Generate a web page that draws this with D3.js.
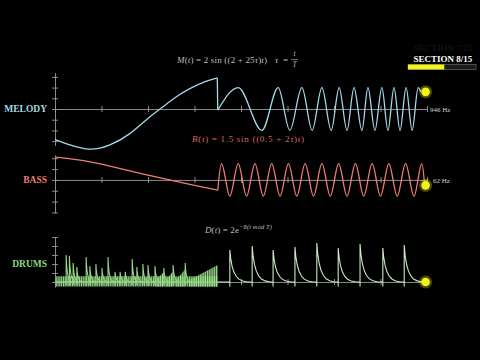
<!DOCTYPE html>
<html>
<head>
<meta charset="utf-8">
<script src="https://cdn.jsdelivr.net/npm/d3@7"></script>
<style>
  body { margin: 0; background: #000; }
  svg { display: block; }
</style>
</head>
<body>
<div id="chart"></div>
<script>
// ---- data ----
var trackNames  = ["MELODY", "BASS", "DRUMS"];
var hzLabels    = ["946 Hz", "62 Hz"];
var timeTicks   = [0, 1, 2, 3, 4, 5, 6, 7, 8];
var melodyTicks = [-3, -2, -1, 0, 1, 2, 3];
var bassTicks   = [-3, -2, -1, 0, 1, 2];
var drumTicks   = [0, 0.5, 1, 1.5, 2, 2.5];
var section     = 8, sectionCount = 15;
var dotT        = 7.97;

// melody: slow part before the jump, then chirp extrema
var melodyLeftT  = [0, 0.32, 0.75, 1.18, 1.61, 1.98, 2.26, 2.58, 2.9, 3.23, 3.49];
var melodyLeftV  = [-2.85, -3.35, -3.75, -3.35, -2.3, -0.95, 0, 1.05, 1.9, 2.55, 2.9];
var melodyRightT = [3.5, 3.94, 4.45, 4.80, 5.05, 5.31, 5.53, 5.74, 5.94, 6.11, 6.28, 6.43,
                    6.60, 6.73, 6.88, 7.03, 7.16, 7.29, 7.42, 7.55, 7.68, 7.81, 7.87];
var melodyRightV = [-0.1, 2, -2, 2, -2, 2, -2, 2, -2, 2, -2, 2,
                    -2, 2, -2, 2, -2, 2, -2, 2, -2, 2, 1.6];

// bass: slow ramp down, then steady oscillation
var bassLeftT  = [0, 0.5, 1, 2, 3, 3.5];
var bassLeftV  = [2.1, 1.85, 1.45, 0.45, -0.5, -0.95];
var bassRightT = [3.5, 3.58, 3.76, 3.94, 4.12, 4.30, 4.48, 4.66, 4.84, 5.02, 5.20,
                  5.38, 5.56, 5.74, 5.92, 6.10, 6.28, 6.46, 6.64, 6.82, 7.00, 7.18, 7.36, 7.54,
                  7.72, 7.89, 7.95];
var bassRightV = [-0.95, 1.5, -1.5, 1.5, -1.5, 1.5, -1.5, 1.5, -1.5, 1.5, -1.5,
                  1.5, -1.5, 1.5, -1.5, 1.5, -1.5, 1.5, -1.5, 1.5, -1.5, 1.5, -1.5, 1.5,
                  -1.5, 1.5, -0.5];

// drums: dense hits on the left, clean hits on the right
var drumLeftHitT  = [0.24, 0.31, 0.39, 0.47, 0.67, 0.75, 0.88, 1.01, 1.14, 1.29, 1.40, 1.51,
                     1.66, 1.76, 1.89, 2.00, 2.15, 2.34, 2.54, 2.80];
var drumLeftHitV  = [1.5, 1.45, 1.05, 0.83, 1.39, 0.89, 1.0, 0.78, 1.39, 0.56, 0.56, 0.56,
                     1.28, 0.83, 1.0, 0.94, 0.89, 0.78, 0.94, 1.05];
var drumRightHitT = [3.76, 4.24, 4.69, 5.16, 5.63, 6.09, 6.56, 7.05, 7.51];
var drumRightHitV = [1.78, 2.0, 1.78, 1.94, 2.17, 1.89, 2.11, 1.89, 2.05];
var drumDecayDt   = [0, 0.02, 0.05, 0.09, 0.14, 0.2, 0.28, 0.38];
var drumDecayFrac = [1, 0.72, 0.48, 0.3, 0.17, 0.08, 0.03, 0];
var drumBandT     = [0, 3.5];
var drumBandLo    = [-0.25, -0.25];
var drumBandHi    = [0.32, 0.32];
var drumRampStart = [2.16, 2.38, 2.6, 2.88];
var drumRampEnd   = [2.34, 2.54, 2.8, 3.5];
var drumRampTop   = [0.55, 0.6, 0.7, 0.95];

// ---- layout ----
var W = 480, H = 360;
var colors = { melody: "#a3d9e8", bass: "#ef7d72", drums: "#93d683", drumsLight: "#c9ebc0",
               axis: "#9a9a9a", dot: "#f2f21c", formula: "#bdbdbd" };
var serif = "'Liberation Serif', 'DejaVu Serif', serif";

var svg = d3.select("#chart").append("svg")
    .attr("width", W).attr("height", H)
    .style("background", "#000");

var defs = svg.append("defs");
var pat = defs.append("pattern")
    .attr("id", "stripes").attr("patternUnits", "userSpaceOnUse")
    .attr("width", 1.8).attr("height", 4);
pat.append("rect").attr("width", 1.8).attr("height", 4).attr("fill", "#5fa553").attr("opacity", 0.6);
pat.append("rect").attr("width", 0.9).attr("height", 4).attr("fill", "#a8e59a");

var x = d3.scaleLinear().domain([0, 8]).range([55, 427]);
var yMel  = d3.scaleLinear().domain([-3.4, 3.4]).range([145.4, 72.6]);
var yBass = d3.scaleLinear().domain([-3.05, 2.3]).range([213, 155]);
var yDrum = d3.scaleLinear().domain([-0.28, 2.5]).range([287, 237]);
var yScales = [yMel, yBass, yDrum];
var vTicks = [melodyTicks, bassTicks, drumTicks];

function zip(ts, vs) { return ts.map(function(t, i) { return [t, vs[i]]; }); }

// ---- axes ----
yScales.forEach(function(y, i) {
    var gx = svg.append("g")
        .attr("transform", "translate(0," + y(0) + ")")
        .call(d3.axisBottom(x).tickValues(timeTicks).tickSize(3).tickSizeOuter(0).tickFormat(""));
    gx.selectAll(".tick line").attr("y1", -3);
    gx.selectAll("path, line").attr("stroke", colors.axis).attr("stroke-width", 0.9);

    var gy = svg.append("g")
        .attr("transform", "translate(" + x(0) + ",0)")
        .call(d3.axisLeft(y).tickValues(vTicks[i]).tickSize(3).tickSizeOuter(0).tickFormat(""));
    gy.selectAll(".tick line").attr("x1", 3);
    gy.selectAll("path, line").attr("stroke", colors.axis).attr("stroke-width", 0.9);
});

// ---- track labels ----
var labelY = [yMel(0), yBass(0), yDrum(1)];
var labelColors = [colors.melody, colors.bass, colors.drums];
svg.selectAll("text.track").data(trackNames).enter()
    .append("text").attr("class", "track")
    .attr("x", 47).attr("y", function(d, i) { return labelY[i]; })
    .attr("dy", "0.35em").attr("text-anchor", "end")
    .attr("font-family", serif).attr("font-weight", "bold").attr("font-size", 9.5)
    .attr("fill", function(d, i) { return labelColors[i]; })
    .text(function(d) { return d; });

// ---- melody ----
function lineFor(y, curve) {
    return d3.line().curve(curve)
        .x(function(d) { return x(d[0]); }).y(function(d) { return y(d[1]); });
}
svg.append("path").datum(zip(melodyLeftT, melodyLeftV))
    .attr("d", lineFor(yMel, d3.curveNatural))
    .attr("fill", "none").attr("stroke", colors.melody).attr("stroke-width", 1.3);
svg.append("path")
    .datum([[melodyLeftT[melodyLeftT.length - 1], melodyLeftV[melodyLeftV.length - 1]],
            [melodyRightT[0], melodyRightV[0]]])
    .attr("d", lineFor(yMel, d3.curveLinear))
    .attr("fill", "none").attr("stroke", colors.melody).attr("stroke-width", 1.3);
svg.append("path").datum(zip(melodyRightT, melodyRightV))
    .attr("d", lineFor(yMel, d3.curveMonotoneX))
    .attr("fill", "none").attr("stroke", colors.melody).attr("stroke-width", 1.3);

// ---- bass ----
svg.append("path").datum(zip(bassLeftT, bassLeftV))
    .attr("d", lineFor(yBass, d3.curveNatural))
    .attr("fill", "none").attr("stroke", colors.bass).attr("stroke-width", 1.3);
svg.append("path").datum(zip(bassRightT, bassRightV))
    .attr("d", lineFor(yBass, d3.curveMonotoneX))
    .attr("fill", "none").attr("stroke", colors.bass).attr("stroke-width", 1.3);

// ---- drums ----
var areaD = d3.area().x(function(d) { return x(d[0]); })
    .y0(function(d) { return yDrum(d[1]); }).y1(function(d) { return yDrum(d[2]); });
svg.append("path")
    .datum(drumBandT.map(function(t, i) { return [t, drumBandLo[i], drumBandHi[i]]; }))
    .attr("d", areaD).attr("fill", "url(#stripes)").attr("opacity", 0.9);
svg.append("line")
    .attr("x1", x(drumBandT[0])).attr("x2", x(drumBandT[1]))
    .attr("y1", yDrum(0)).attr("y2", yDrum(0))
    .attr("stroke", colors.drums).attr("stroke-width", 1.2);
drumRampStart.forEach(function(t0, i) {
    svg.append("path")
        .datum([[t0, -0.25, 0.1], [drumRampEnd[i], -0.25, drumRampTop[i]]])
        .attr("d", areaD).attr("fill", "url(#stripes)").attr("opacity", 0.95);
});

var lineD = lineFor(yDrum, d3.curveLinear);
drumLeftHitT.forEach(function(t0, i) {
    var pts = [[t0, -0.2]];
    drumDecayDt.forEach(function(dt, k) { pts.push([t0 + dt * 0.35, drumLeftHitV[i] * drumDecayFrac[k]]); });
    svg.append("path").datum(pts).attr("d", lineD)
        .attr("fill", "none").attr("stroke", colors.drums).attr("stroke-width", 1.1);
});

var rightPts = [[3.5, 0]];
drumRightHitT.forEach(function(t0, i) {
    rightPts.push([t0, 0], [t0, -0.25]);
    drumDecayDt.forEach(function(dt, k) { rightPts.push([t0 + dt, drumRightHitV[i] * drumDecayFrac[k]]); });
});
rightPts.push([dotT, 0]);
svg.append("path").datum(rightPts).attr("d", lineD)
    .attr("fill", "none").attr("stroke", colors.drumsLight).attr("stroke-width", 1.1);

// ---- playheads ----
var lastVals = [melodyRightV[melodyRightV.length - 1], bassRightV[bassRightV.length - 1], 0];
yScales.forEach(function(y, i) {
    var cx = x(dotT), cy = y(lastVals[i]);
    svg.append("circle").attr("cx", cx).attr("cy", cy).attr("r", 6.5)
        .attr("fill", colors.dot).attr("opacity", 0.3);
    svg.append("circle").attr("cx", cx).attr("cy", cy).attr("r", 4.3)
        .attr("fill", colors.dot);
});

// ---- frequency labels ----
svg.selectAll("text.hz").data(hzLabels).enter()
    .append("text").attr("class", "hz")
    .attr("x", function(d, i) { return i === 0 ? 430 : 433; })
    .attr("y", function(d, i) { return yScales[i](0) + 1; })
    .attr("dy", "0.35em")
    .attr("font-family", serif).attr("font-size", 7)
    .attr("fill", "#cfcfcf")
    .text(function(d) { return d; });

// ---- formulas ----
function formula(xp, yp, len, parts, color) {
    var t = svg.append("text").attr("x", xp).attr("y", yp)
        .attr("font-family", serif).attr("font-size", 9).attr("fill", color)
        .attr("textLength", len).attr("lengthAdjust", "spacing");
    parts.forEach(function(p) {
        var s = t.append("tspan").text(p[0]);
        if (p[1] === "i") s.attr("font-style", "italic");
        if (p[1] === "sup") s.attr("font-size", 6.5).attr("dy", -4).attr("font-style", "italic");
    });
    return t;
}
formula(177, 63, 90, [["M", "i"], ["(", "n"], ["t", "i"], [") = 2 sin ((2 + 25", "n"], ["τ", "i"],
                  [")", "n"], ["t", "i"], [")", "n"]], colors.formula);
formula(275, 63, 13, [["τ", "i"], [" =", "n"]], colors.formula);
svg.append("text").attr("x", 294.5).attr("y", 56).attr("text-anchor", "middle")
    .attr("font-family", serif).attr("font-style", "italic").attr("font-size", 7.5)
    .attr("fill", colors.formula).text("t");
svg.append("line").attr("x1", 291).attr("x2", 298).attr("y1", 59.5).attr("y2", 59.5)
    .attr("stroke", colors.formula).attr("stroke-width", 0.6);
svg.append("text").attr("x", 294.5).attr("y", 67).attr("text-anchor", "middle")
    .attr("font-family", serif).attr("font-style", "italic").attr("font-size", 7.5)
    .attr("fill", colors.formula).text("T");

formula(192, 142, 112, [["B", "i"], ["(", "n"], ["t", "i"], [") = 1.5 sin ((0.5 + 2", "n"], ["τ", "i"],
                   [")", "n"], ["t", "i"], [")", "n"]], "#d9675e");
formula(205, 233, 67, [["D", "i"], ["(", "n"], ["t", "i"], [") = 2e", "n"], ["−8(t mod T)", "sup"]],
        colors.formula);

// ---- section indicator ----
svg.append("text").attr("x", 443).attr("y", 51).attr("text-anchor", "middle")
    .attr("font-family", serif).attr("font-weight", "bold").attr("font-size", 9)
    .attr("fill", "#fff").attr("opacity", 0.06)
    .text("SECTION " + (section - 1) + "/" + sectionCount);
svg.append("text").attr("x", 443).attr("y", 62).attr("text-anchor", "middle")
    .attr("font-family", serif).attr("font-weight", "bold").attr("font-size", 9)
    .attr("fill", "#fff")
    .text("SECTION " + section + "/" + sectionCount);

var bar = d3.scaleLinear().domain([0, sectionCount]).range([408, 476]);
svg.append("rect").attr("x", bar(0)).attr("y", 64.5)
    .attr("width", bar(sectionCount) - bar(0)).attr("height", 5)
    .attr("fill", "#1a1a1a").attr("stroke", "#666").attr("stroke-width", 0.7);
svg.append("rect").attr("x", bar(0)).attr("y", 64.5)
    .attr("width", bar(section) - bar(0)).attr("height", 5)
    .attr("fill", colors.dot);
</script>
</body>
</html>
